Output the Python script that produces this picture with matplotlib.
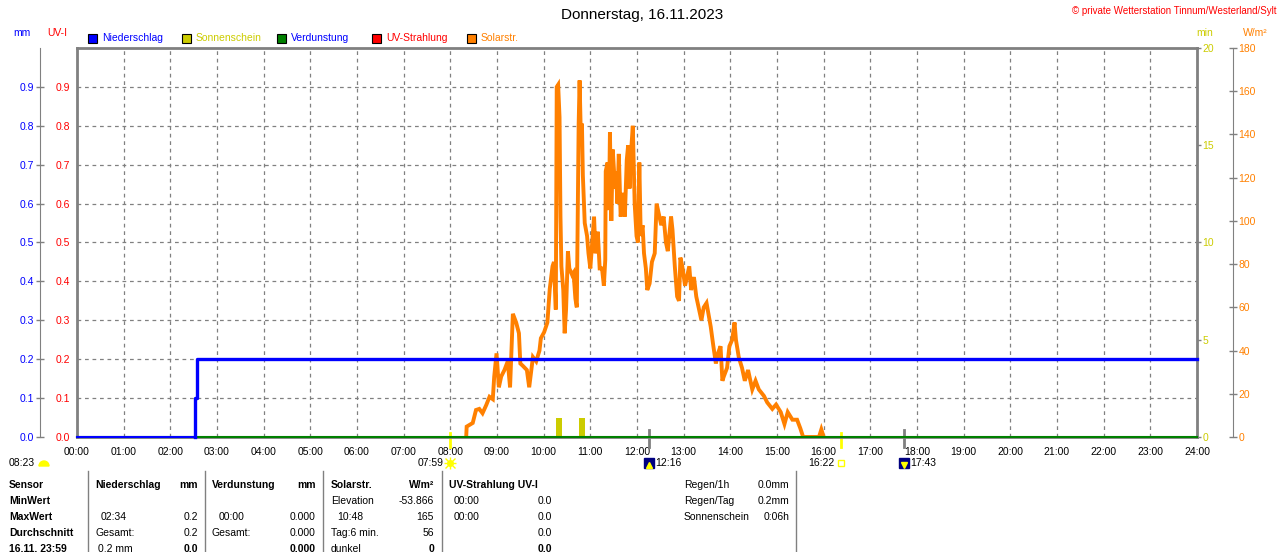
import numpy as np
import matplotlib
matplotlib.use("Agg")
import matplotlib.pyplot as plt
from matplotlib.lines import Line2D
from matplotlib.patches import Rectangle, Wedge
from matplotlib.transforms import IdentityTransform

plt.rcParams['font.family'] = ['Liberation Sans', 'DejaVu Sans']

W, H = 1280, 552

# Achsen / Beschriftungen
hours = list(range(25))
hour_labels = [f"{h:02d}:00" for h in hours]
mm_ticks = [0.0, 0.1, 0.2, 0.3, 0.4, 0.5, 0.6, 0.7, 0.8, 0.9]
min_ticks = [0, 5, 10, 15, 20]
w_ticks = [0, 20, 40, 60, 80, 100, 120, 140, 160, 180]

# Niederschlag (mm, kumuliert)
rain_t = [0.0, 2.53, 2.567, 24.0]
rain_mm = [0.0, 0.1, 0.2, 0.2]

# Verdunstung (mm)
evap_t = [0.0, 24.0]
evap_mm = [0.0, 0.0]

# Sonnenschein (min)
sun_t = [10.32, 10.82]
sun_min = [1.0, 1.0]

# Solarstrahlung (W/m2)
solar_t = [8.34, 8.35, 8.48, 8.55, 8.62, 8.69, 8.77, 8.84, 8.91, 8.94, 8.99, 9.04, 9.09,
           9.16, 9.23, 9.28, 9.34, 9.41, 9.47, 9.50, 9.55, 9.64, 9.69, 9.77, 9.84, 9.91,
           9.94, 10.01, 10.08, 10.13, 10.19, 10.22, 10.26, 10.28, 10.31, 10.34, 10.36,
           10.38, 10.42, 10.45, 10.48, 10.52, 10.55, 10.61, 10.64, 10.68, 10.71, 10.73,
           10.75, 10.77, 10.80, 10.82, 10.84, 10.88, 10.93, 10.96, 11.00, 11.03, 11.08,
           11.11, 11.16, 11.20, 11.25, 11.29, 11.32, 11.33, 11.37, 11.40, 11.42, 11.45,
           11.48, 11.53, 11.55, 11.58, 11.61, 11.65, 11.70, 11.74, 11.78, 11.81, 11.84,
           11.87, 11.91, 11.95, 11.99, 12.02, 12.05, 12.08, 12.12, 12.15, 12.19, 12.22,
           12.27, 12.32, 12.38, 12.42, 12.46, 12.52, 12.57, 12.62, 12.66, 12.73, 12.76,
           12.81, 12.86, 12.90, 12.93, 12.97, 13.03, 13.12, 13.16, 13.22, 13.27, 13.33,
           13.38, 13.43, 13.49, 13.54, 13.58, 13.63, 13.69, 13.74, 13.79, 13.83, 13.86,
           13.93, 13.98, 14.04, 14.09, 14.12, 14.18, 14.25, 14.31, 14.38, 14.47, 14.54,
           14.61, 14.72, 14.79, 14.90, 14.98, 15.08, 15.16, 15.23, 15.33, 15.43, 15.50,
           15.56, 15.90, 15.95, 16.00]
solar_w = [0, 4.8, 6.5, 12.5, 13, 11, 14.8, 18.6, 17.5, 27.9, 38.7, 23, 28,
           31, 35, 23, 57, 53, 48, 34, 33, 31, 23, 37, 35, 40,
           45.7, 48.5, 53, 68.5, 79, 81, 59, 162, 163, 148, 102,
           79, 68, 48, 59, 86, 78, 75, 76, 64, 60, 104,
           145, 165, 136, 145, 121, 99, 93, 85, 78, 87, 102,
           85, 95, 78, 78, 70, 82, 123, 127, 105, 141, 100,
           133, 115, 123, 108, 131, 102, 113, 102, 128, 135, 115,
           131, 144, 108, 93, 90, 127, 93, 98, 85, 78, 68,
           71, 81, 85, 108, 104, 98, 102, 90, 86, 102, 96,
           79, 65, 63, 83, 79, 70, 79, 68, 74, 65, 59,
           54, 60, 62, 56, 51, 43, 34, 39, 42, 26, 28,
           32, 42, 45, 53, 45, 37, 32, 26, 31, 22, 26,
           22, 19, 16, 13, 15, 11.5, 6, 11.5, 8, 8, 4,
           0, 0, 3.5, 0]

# Sonnen-/Mondzeiten
sun_events = [7.983, 16.367]
sun_labels = ["07:59", "16:22"]
moon_events = [12.267, 17.717]
moon_labels = ["12:16", "17:43"]

GRAY = '#808080'
BLUE = '#0000ff'
YEL = '#cccc00'
ORANGE = '#ff8000'
GREEN = '#008000'
FS = 7.5


def fx(x):
    return x / W


def fy(y):
    return 1 - y / H


def ftext(x, y, s, **kw):
    kw.setdefault('fontsize', FS)
    kw.setdefault('va', 'center')
    fig.text(fx(x), fy(y), s, **kw)


fig = plt.figure(figsize=(W / 100, H / 100), dpi=100)
ax = fig.add_axes([fx(77), fy(437), (1197 - 77) / W, (437 - 48) / H])
ax.set_xlim(0, 24)
ax.set_ylim(0, 1)
ax.set_xticks(hours)
ax.set_xticklabels(hour_labels)
ax.set_yticks(mm_ticks)
ax.set_yticklabels([f"{v:.1f}" for v in mm_ticks])
ax.grid(True, color=GRAY, linestyle=(0, (3, 3)), linewidth=0.9)
ax.tick_params(axis='x', length=0, pad=7, labelsize=FS)
ax.tick_params(axis='y', length=0, pad=5, labelsize=FS, labelcolor='red')
for s in ax.spines.values():
    s.set_color(GRAY)
    s.set_linewidth(2)

# Sonnenschein (min) rechts an der Kante
ax_min = ax.twinx()
ax_min.set_ylim(0, 20)
ax_min.set_yticks(min_ticks)
ax_min.tick_params(axis='y', length=3, width=1, color=GRAY, pad=1, labelsize=FS, labelcolor=YEL)
for s in ax_min.spines.values():
    s.set_visible(False)
ax_min.bar(sun_t, sun_min, width=0.13, color=YEL, zorder=3)

# Solarstrahlung (W/m2)
ax_w = ax.twinx()
ax_w.set_ylim(0, 180)
ax_w.set_yticks(w_ticks)
for k, s in ax_w.spines.items():
    s.set_visible(k == 'right')
ax_w.spines['right'].set_position(('outward', 26))
ax_w.spines['right'].set_color(GRAY)
ax_w.tick_params(axis='y', direction='inout', length=6, width=1, color=GRAY, pad=1,
                 labelsize=FS, labelcolor=ORANGE)
ax_w.plot(solar_t, solar_w, color=ORANGE, lw=2.8, solid_joinstyle='miter')

# Niederschlag / Verdunstung (mm)
ax_mm = ax.twinx()
ax_mm.set_ylim(0, 1)
ax_mm.yaxis.tick_left()
ax_mm.set_yticks(mm_ticks)
ax_mm.set_yticklabels([f"{v:.1f}" for v in mm_ticks])
for k, s in ax_mm.spines.items():
    s.set_visible(k == 'left')
ax_mm.spines['left'].set_position(('outward', 26.6))
ax_mm.spines['left'].set_color(GRAY)
ax_mm.tick_params(axis='y', direction='inout', length=6, width=1, color=GRAY, pad=1,
                  labelsize=FS, labelcolor=BLUE)
ax_mm.plot(evap_t, evap_mm, color=GREEN, lw=1.5, clip_on=False)
# Nullabschnitt dünn, danach dick
ax_mm.plot(rain_t[:2], [rain_mm[0], rain_mm[0]], color=BLUE, lw=1.5, clip_on=False)
ax_mm.plot([rain_t[1]] + rain_t[1:], [rain_mm[0]] + rain_mm[1:], drawstyle='steps-post',
           color=BLUE, lw=2.4, clip_on=False)

# Markierungen unter der Zeitachse
xt = ax.get_xaxis_transform()
for t, lab in zip(sun_events, sun_labels):
    ax.plot([t, t], [-0.026, 0.01], color='#ffff00', lw=2, transform=xt, clip_on=False)
    ax.text(t - 0.13, -0.068, lab, transform=xt, ha='right', va='center', fontsize=FS)
ax.plot(sun_events[0], -0.068, 'o', ms=4, color='#ffff00', transform=xt, clip_on=False)
ax.plot(sun_events[0], -0.068, '+', ms=9, mew=1, color='#ffff00', transform=xt, clip_on=False)
ax.plot(sun_events[0], -0.068, 'x', ms=7, mew=1, color='#ffff00', transform=xt, clip_on=False)
ax.plot(sun_events[1], -0.068, 's', ms=4, mfc='none', mec='#ffff00', transform=xt, clip_on=False)
for t, lab, arr in zip(moon_events, moon_labels, ['^', 'v']):
    ax.plot([t, t], [-0.026, 0.017], color=GRAY, lw=2, transform=xt, clip_on=False)
    ax.plot(t, -0.068, 's', ms=7.5, color='#000080', transform=xt, clip_on=False)
    ax.plot(t, -0.072, arr, ms=4, color='#ffff00', transform=xt, clip_on=False)
    ax.text(t + 0.13, -0.068, lab, transform=xt, ha='left', va='center', fontsize=FS)
ftext(9, 463, "08:23")
fig.add_artist(Wedge((44, H - 466), 5, 0, 180, color='#ffff00', transform=IdentityTransform()))

# Kopfzeile
ftext(642, 15, "Donnerstag, 16.11.2023", ha='center', fontsize=11)
ftext(1277, 11, "© private Wetterstation Tinnum/Westerland/Sylt", ha='right', fontsize=7, color='red')
ftext(22, 33, "mm", ha='center', color=BLUE)
ftext(57, 33, "UV-I", ha='center', color='red')
ftext(1205, 33, "min", ha='center', color=YEL)
ftext(1255, 33, "W/m²", ha='center', color=ORANGE)

legend = [("Niederschlag", BLUE, BLUE, 88), ("Sonnenschein", YEL, YEL, 182),
          ("Verdunstung", GREEN, BLUE, 277), ("UV-Strahlung", 'red', 'red', 372),
          ("Solarstr.", ORANGE, ORANGE, 467)]
for name, fc, tc, x0 in legend:
    fig.add_artist(Rectangle((fx(x0), fy(43)), 9 / W, 9 / H, facecolor=fc, edgecolor='black',
                             lw=0.8, transform=fig.transFigure))
    ftext(x0 + 14, 38, name, color=tc)

# Tabelle
for xs in [88, 205, 323, 442, 796]:
    fig.add_artist(Line2D([fx(xs), fx(xs)], [fy(471), 0], color=GRAY, lw=1))

rows = [485, 501, 517, 533, 549]
for y, s in zip(rows, ["Sensor", "MinWert", "MaxWert", "Durchschnitt", "16.11. 23:59"]):
    ftext(9, y, s, fontweight='bold')

left_cells = [
    (95, 485, "Niederschlag", True), (101, 517, "02:34", False), (95, 533, "Gesamt:", False),
    (98, 549, "0.2 mm", False),
    (212, 485, "Verdunstung", True), (219, 517, "00:00", False), (212, 533, "Gesamt:", False),
    (331, 485, "Solarstr.", True), (331, 501, "Elevation", False), (337, 517, "10:48", False),
    (331, 533, "Tag:6 min.", False), (331, 549, "dunkel", False),
    (449, 485, "UV-Strahlung UV-I", True), (454, 501, "00:00", False), (454, 517, "00:00", False),
    (684, 485, "Regen/1h", False), (684, 501, "Regen/Tag", False), (684, 517, "Sonnenschein", False),
]
for x, y, s, b in left_cells:
    ftext(x, y, s, fontweight='bold' if b else 'normal')

right_cells = [
    (198, 485, "mm", True), (198, 517, "0.2", False), (198, 533, "0.2", False), (198, 549, "0.0", True),
    (316, 485, "mm", True), (316, 517, "0.000", False), (316, 533, "0.000", False), (316, 549, "0.000", True),
    (434, 485, "W/m²", True), (434, 501, "-53.866", False), (434, 517, "165", False),
    (434, 533, "56", False), (434, 549, "0", True),
    (552, 501, "0.0", False), (552, 517, "0.0", False), (552, 533, "0.0", False), (552, 549, "0.0", True),
    (789, 485, "0.0mm", False), (789, 501, "0.2mm", False), (789, 517, "0:06h", False),
]
for x, y, s, b in right_cells:
    ftext(x, y, s, ha='right', fontweight='bold' if b else 'normal')

fig.savefig("out.png", dpi=100)
